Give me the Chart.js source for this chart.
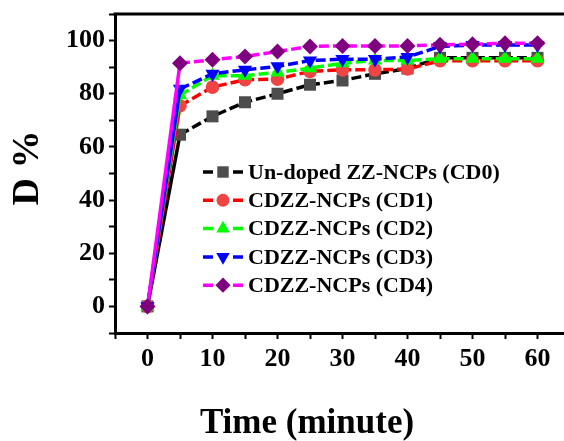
<!DOCTYPE html>
<html>
<head>
<meta charset="utf-8">
<script src="https://cdn.jsdelivr.net/npm/chart.js@4"></script>
<style>
  html, body { margin: 0; padding: 0; background: #fff; overflow: hidden; }
  #wrap { width: 600px; height: 441px; }
</style>
</head>
<body>
<div id="wrap"><canvas id="lineChart" width="600" height="441"></canvas></div>
<script>
// time in minutes
var time = [0, 5, 10, 15, 20, 25, 30, 35, 40, 45, 50, 55, 60]

// degradation D %
var cd0 = [0, 64.6, 71.5, 76.8, 80.0, 83.4, 85.0, 87.5, 89.5, 93.5, 93.5, 93.5, 93.5]
var cd1 = [0, 75.5, 82.5, 85.3, 85.5, 88.4, 89.0, 89.0, 89.3, 92.4, 92.4, 92.4, 92.4]
var cd2 = [0, 79.5, 86.8, 86.8, 88.0, 89.6, 91.5, 92.5, 92.5, 93.2, 93.2, 93.2, 93.2]
var cd3 = [0, 81.8, 87.5, 89.0, 90.3, 92.5, 93.0, 93.0, 93.8, 97.8, 98.3, 98.3, 98.3]
var cd4 = [0, 91.5, 92.8, 94.0, 95.9, 97.8, 98.0, 98.0, 98.0, 98.4, 98.6, 99.0, 99.0]

var names = ['Un-doped ZZ-NCPs (CD0)', 'CDZZ-NCPs (CD1)', 'CDZZ-NCPs (CD2)', 'CDZZ-NCPs (CD3)', 'CDZZ-NCPs (CD4)']
var xTicks = [0, 10, 20, 30, 40, 50, 60]
var yTicks = [0, 20, 40, 60, 80, 100]

var series = [cd0, cd1, cd2, cd3, cd4]
var lineColors = ['#000000', '#ff0000', '#00ff00', '#0000ff', '#ff00ff']
var markColors = ['#4d4d4d', '#ef4444', '#00ff00', '#0000ff', '#7f007f']
var styles = ['rect', 'circle', 'triangle', 'triangle', 'rectRot']
var rotations = [0, 0, 0, 180, 0]
var radii = [8.5, 6.8, 8.2, 8.2, 8]

var serif = '"Liberation Serif", "Times New Roman", serif'
var dash = [10, 4]

var datasets = series.map(function (vals, i) {
    return {
        label: names[i],
        data: vals.map(function (v, j) { return { x: time[j], y: v } }),
        borderColor: lineColors[i],
        backgroundColor: markColors[i],
        borderWidth: 3.5,
        borderDash: dash,
        segment: {
            borderDash: function (ctx) { return ctx.p0DataIndex === 0 ? [] : dash }
        },
        pointStyle: styles[i],
        pointRotation: rotations[i],
        pointRadius: radii[i],
        pointHoverRadius: radii[i],
        pointBorderWidth: 0,
        pointBackgroundColor: markColors[i],
        tension: 0,
        fill: false,
        order: series.length - i
    }
})

// frame top line, axis titles and the legend
var decor = {
    id: 'decor',
    afterDraw: function (chart) {
        var c = chart.ctx
        var a = chart.chartArea
        c.save()
        c.strokeStyle = '#000'
        c.lineWidth = 3
        c.beginPath()
        c.moveTo(a.left - 1.5, a.top)
        c.lineTo(a.right + 2, a.top)
        c.stroke()

        c.fillStyle = '#000'
        c.font = 'bold 35px ' + serif
        c.textAlign = 'center'
        c.textBaseline = 'middle'
        c.fillText('Time (minute)', 307, 424)

        c.save()
        c.translate(28, 168)
        c.rotate(-Math.PI / 2)
        c.font = 'bold 38px ' + serif
        c.fillText('D %', 0, 0)
        c.restore()

        // legend
        var lx = 203, ly = 172, step = 28.3
        chart.data.datasets.forEach(function (ds, i) {
            var y = ly + i * step
            c.strokeStyle = ds.borderColor
            c.lineWidth = 3.5
            c.setLineDash([])
            c.beginPath()
            c.moveTo(lx, y); c.lineTo(lx + 10, y)
            c.moveTo(lx + 30, y); c.lineTo(lx + 40, y)
            c.stroke()
            c.fillStyle = ds.pointBackgroundColor
            Chart.helpers.drawPoint(c, {
                pointStyle: ds.pointStyle,
                radius: ds.pointRadius * 0.95,
                rotation: ds.pointRotation,
                borderWidth: 0
            }, lx + 20, y)
            c.fillStyle = '#000'
            c.font = 'bold 22px ' + serif
            c.textAlign = 'left'
            c.textBaseline = 'middle'
            c.fillText(ds.label, lx + 45, y + 1)
        })
        c.restore()
    }
}

var ctx = document.getElementById('lineChart')

new Chart(ctx, {
    type: 'line',
    data: { datasets: datasets },
    plugins: [decor],
    options: {
        responsive: false,
        animation: false,
        layout: { padding: { top: 14, right: 30, left: 0, bottom: 0 } },
        plugins: {
            legend: { display: false },
            tooltip: { enabled: false }
        },
        scales: {
            x: {
                type: 'linear',
                min: -5,
                max: 65,
                afterFit: function (s) {
                    s.height = 108
                    s.paddingLeft = 0
                    s.paddingRight = 0
                },
                ticks: {
                    stepSize: 5,
                    autoSkip: false,
                    maxRotation: 0,
                    padding: 5,
                    color: '#000',
                    font: { family: serif, size: 26, weight: 'bold' },
                    callback: function (v) { return xTicks.indexOf(v) >= 0 ? String(v) : '' }
                },
                grid: {
                    drawOnChartArea: false,
                    drawTicks: true,
                    tickLength: 6,
                    tickColor: '#000',
                    tickWidth: 2
                },
                border: { color: '#000', width: 3 }
            },
            y: {
                min: -10,
                max: 110,
                afterFit: function (s) {
                    s.width = 115
                    s.paddingTop = 0
                    s.paddingBottom = 0
                },
                ticks: {
                    stepSize: 10,
                    autoSkip: false,
                    padding: 4,
                    color: '#000',
                    font: { family: serif, size: 26, weight: 'bold' },
                    callback: function (v) { return yTicks.indexOf(v) >= 0 ? String(v) : '' }
                },
                grid: {
                    drawOnChartArea: false,
                    drawTicks: true,
                    tickLength: 6,
                    tickColor: '#000',
                    tickWidth: 2
                },
                border: { color: '#000', width: 3 }
            }
        }
    }
})
</script>
</body>
</html>
